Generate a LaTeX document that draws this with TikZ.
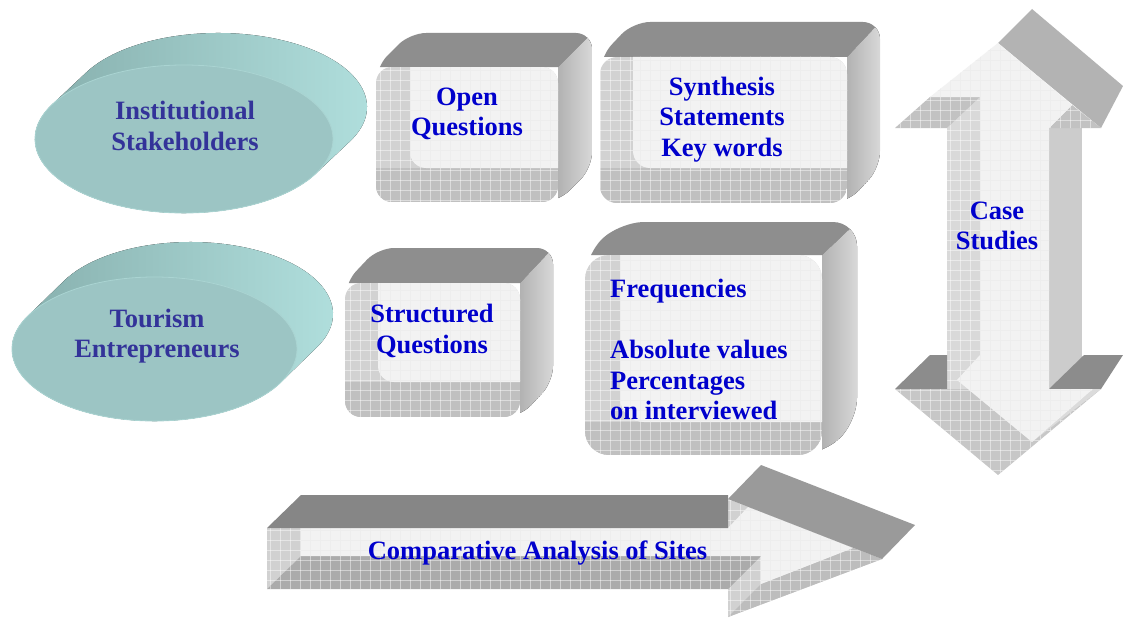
\documentclass[tikz,border=0pt]{standalone}
\usepackage{fontspec}
\setmainfont{Liberation Serif}
\definecolor{LabelBlue}{HTML}{0000CC}
\definecolor{OvalInk}{HTML}{333399}
\definecolor{OvalFace}{HTML}{9CC5C4}
\definecolor{OvalRim}{HTML}{AAD4D2}
\definecolor{OvalSideL}{HTML}{84ACAA}
\definecolor{OvalSideM}{HTML}{779A98}
\definecolor{OvalSideR}{HTML}{B2E1DF}
\definecolor{TopGray}{HTML}{8E8E8E}
\definecolor{SideGrayA}{HTML}{B2B2B2}
\definecolor{SideGrayB}{HTML}{D8D8D8}
\definecolor{StripGray}{HTML}{D2D2D2}
\definecolor{FloorGray}{HTML}{C0C0C0}
\definecolor{FaceLight}{HTML}{F2F2F2}
\definecolor{BandGray}{HTML}{B3B3B3}
\definecolor{DarkGray}{HTML}{8C8C8C}
\definecolor{ShaftTop}{HTML}{868686}
\definecolor{HeadBand}{HTML}{9A9A9A}
\newcommand{\labelfont}{\fontsize{26.5}{30.5}\selectfont\bfseries}
\tikzset{
  meshline/.style={draw=white,line width=0.5pt,opacity=0.45},
  lightmesh/.style={draw=black!7,line width=0.4pt},
  meshed/.style={path picture={
      \foreach \k in {0,10,...,1120} \draw[#1] (\k,0) -- (\k,620);
      \foreach \k in {0,10,...,620} \draw[#1] (0,\k) -- (1130,\k);}},
  meshed/.default=meshline,
  boxlabel/.style={font=\labelfont,text=LabelBlue,align=center,inner sep=0pt},
  ovallabel/.style={font=\labelfont,text=OvalInk,align=center,inner sep=0pt},
  topface/.style={fill=TopGray},
  sideface/.style={left color=SideGrayA,right color=SideGrayB},
  clearface/.style={fill=FaceLight,meshed=lightmesh},
  ovalside/.style={left color=OvalSideL,middle color=OvalSideM,right color=OvalSideR},
  ovalface/.style={fill=OvalFace,draw=OvalRim,line width=0.8pt},
}
% x y w h dx dy radius
\newcommand{\cubebox}[7]{%
  \begin{scope}
    \clip[rounded corners=#7] (#1,#2+#4) -- (#1,#2) -- (#1+#5,#2+#6) -- (#1+#3+#5,#2+#6)
      -- (#1+#3+#5,#2+#4+#6) -- (#1+#3,#2+#4) -- cycle;
    \fill[sideface] (#1+#3,#2) -- (#1+#3+#5,#2+#6) -- (#1+#3+#5,#2+#4+#6) -- (#1+#3,#2+#4) -- cycle;
    \fill[topface] (#1,#2) -- (#1+#5,#2+#6) -- (#1+#3+#5,#2+#6) -- (#1+#3,#2) -- cycle;
  \end{scope}
  \begin{scope}
    \clip[rounded corners=#7] (#1,#2) rectangle (#1+#3,#2+#4);
    \fill[StripGray] (#1,#2) rectangle (#1+#3,#2+#4);
    \fill[FloorGray] (#1,#2+#4+#6) rectangle (#1+#3,#2+#4);
    \path[meshed] (#1,#2) rectangle (#1+#3,#2+#4);
    \path[clearface,rounded corners=#7] (#1+#5,#2+#6) rectangle (#1+#3+#5,#2+#4+#6);
  \end{scope}}
% cx cy rx ry dx dy
\newcommand{\ovaldisc}[6]{%
  \pgfmathsetmacro\tz{atan((#4*#5)/(#3*(-1)*(#6)))}
  \fill[ovalside] ({#1+#3*cos(\tz)},{#2+#4*sin(\tz)})
    arc[start angle=\tz,end angle=\tz+180,x radius=#3,y radius=#4]
    -- ++(#5,#6)
    arc[start angle=\tz+180,end angle=\tz+360,x radius=#3,y radius=#4]
    -- cycle;
  \path[ovalface] (#1,#2) ellipse[x radius=#3,y radius=#4];}
\begin{document}
\begin{tikzpicture}[x=1pt,y=-1pt]
  \useasboundingbox (0,0) rectangle (1123,618);
  \fill[white] (0,0) rectangle (1123,618);

  \ovaldisc{184}{139}{149}{74}{34}{-32}
  \ovaldisc{154.5}{349}{142.5}{72}{36}{-35}

  \cubebox{376}{67}{182}{135}{34}{-34}{16pt}
  \cubebox{600}{57}{247}{146}{33}{-35}{17pt}
  \cubebox{345}{283}{175}{134}{33}{-35}{16pt}
  \cubebox{585}{255}{237}{200}{35}{-33}{24pt}

  % up-down arrow
  \fill[BandGray] (998,43) -- (1032,9) -- (1123,86) -- (1101,128) -- cycle;
  \fill[black!20] (1049,128) rectangle (1082,389);
  \path[fill=black!15,meshed] (947,128) -- (980,97) -- (980,389) -- (947,389) -- cycle;
  \path[fill=black!24,meshed] (895,128) -- (930,97) -- (980,97) -- (947,128) -- cycle;
  \path[fill=black!24,meshed] (1049,128) -- (1072,105) -- (1101,128) -- cycle;
  \fill[DarkGray] (895,389) -- (930,355) -- (947,355) -- (947,389) -- cycle;
  \fill[DarkGray] (1049,389) -- (1084,355) -- (1123,355) -- (1101,389) -- cycle;
  \path[fill=black!22,meshed] (895,389) -- (998,475) -- (1101,389) -- cycle;
  \fill[black!14] (1032,442) -- (1101,389) -- (1093,389) -- cycle;
  \path[clearface] (998,43) -- (930,97) -- (980,97) -- (980,355) -- (957,380) -- (1032,442)
    -- (1093,389) -- (1049,389) -- (1049,128) -- (1072,105) -- cycle;

  % right arrow
  \path[fill=black!18,meshed] (728,499) -- (882,559) -- (728,617) -- cycle;
  \path[fill=black!26,meshed] (761,584) -- (853,548) -- (882,559) -- (728,617) -- cycle;
  \path[fill=black!18,meshed] (267,528) -- (301,528) -- (301,556) -- (267,589) -- cycle;
  \path[fill=black!33,meshed] (267,589) -- (301,556) -- (761,556) -- (728,589) -- cycle;
  \path[clearface] (301,528) -- (728,528) -- (748,507) -- (853,548) -- (761,584) -- (761,556)
    -- (301,556) -- cycle;
  \fill[ShaftTop] (267,528) -- (301,495) -- (728,495) -- (728,528) -- cycle;
  \fill[HeadBand] (728,499) -- (761,465) -- (915,525) -- (882,559) -- cycle;

  \node[ovallabel] (instit) at (185,126) {Institutional\\Stakeholders};
  \node[ovallabel] (tourism) at (157,336) {Tourism\\Entrepreneurs};
  \node[boxlabel] (openq) at (467,114) {Open\\Questions};
  \node[boxlabel] (synth) at (722,119.5) {Synthesis\\Statements\\Key words};
  \node[boxlabel] (structq) at (432,331) {Structured\\Questions};
  \node[boxlabel,align=left,anchor=north west] (freq) at (610,279)
    {Frequencies\\[30.5pt]Absolute values\\Percentages\\on interviewed};
  \node[boxlabel] (cases) at (997,226) {Case\\Studies};
  \node[boxlabel] (compare) at (537.5,553) {Comparative Analysis of Sites};
\end{tikzpicture}
\end{document}
